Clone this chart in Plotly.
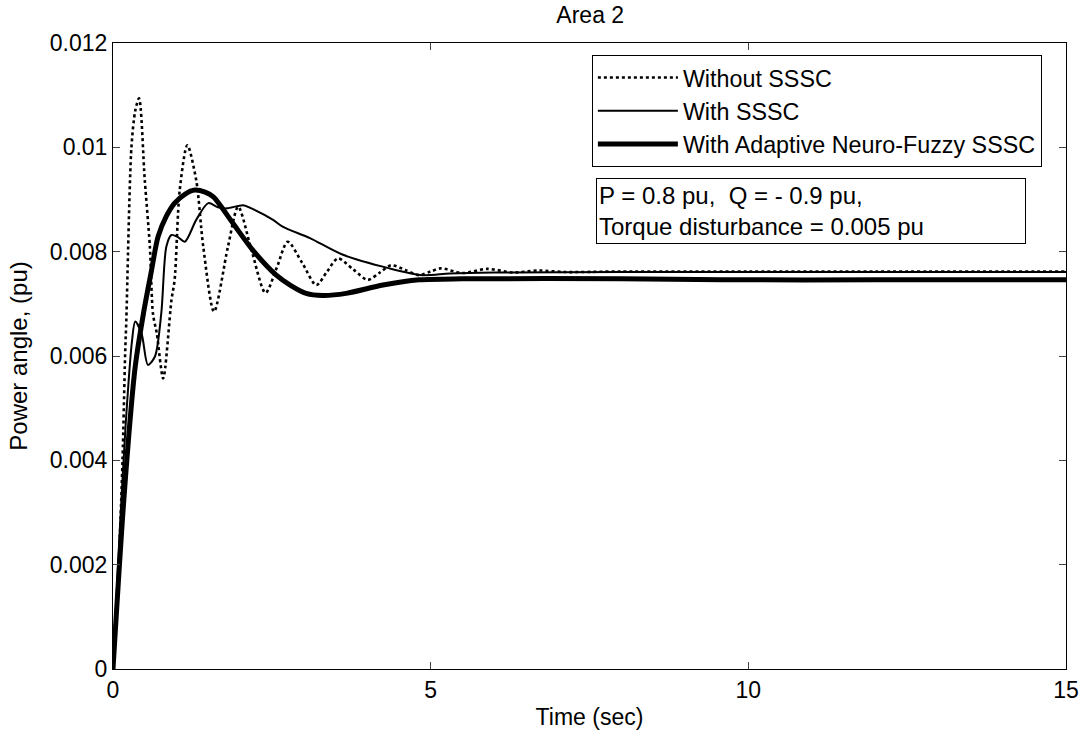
import plotly.graph_objects as go

# ---- data ----
t_without = [0, 0.02, 0.09, 0.15, 0.19, 0.21, 0.29, 0.35, 0.41, 0.50, 0.58, 0.63, 0.69, 0.79,
             0.92, 0.97, 1.05, 1.17, 1.31, 1.42, 1.59, 1.81, 1.97, 2.18, 2.40, 2.58, 2.75,
             2.98, 3.20, 3.37, 3.54, 3.78, 4.01, 4.20, 4.38, 4.60, 4.82, 5.00, 5.16, 5.50,
             5.89, 6.3, 6.7, 7.1, 8, 10, 12, 15]
y_without = [0, 0.0006, 0.0020, 0.0040, 0.0060, 0.0067, 0.0100, 0.0107, 0.01094, 0.00937,
             0.0081, 0.0068, 0.00643, 0.00557, 0.00707, 0.00746, 0.00918, 0.01004, 0.00937,
             0.0081, 0.00685, 0.0081, 0.00886, 0.00803, 0.00721, 0.0077, 0.00819, 0.00778,
             0.00736, 0.00762, 0.00787, 0.00766, 0.00746, 0.0076, 0.00774, 0.00765, 0.00755,
             0.00762, 0.00768, 0.00759, 0.00767, 0.0076, 0.00764, 0.00761, 0.00762, 0.00762,
             0.00762, 0.00762]

t_with = [0, 0.1, 0.2, 0.3, 0.35, 0.45, 0.55, 0.66, 0.76, 0.84, 0.92, 1.02, 1.13, 1.31, 1.50,
          1.65, 1.79, 2.05, 2.18, 2.52, 2.67, 3.10, 3.60, 4.35, 4.87, 5.3, 6, 8, 10, 15]
y_with = [0, 0.0025, 0.0047, 0.0063, 0.00666, 0.00643, 0.00583, 0.00599, 0.00682, 0.0081,
          0.00832, 0.00828, 0.00819, 0.00861, 0.00893, 0.00885, 0.00883, 0.00889, 0.00883,
          0.00861, 0.00848, 0.00826, 0.00795, 0.00768, 0.00755, 0.00758, 0.0076,
          0.00761, 0.00761, 0.00761]

t_anfis = [0, 0.05, 0.15, 0.25, 0.35, 0.48, 0.6, 0.71, 0.84, 0.97, 1.13, 1.29, 1.45, 1.58,
           1.89, 2.20, 2.57, 2.8, 3.04, 3.3, 3.67, 4.25, 4.82, 5.5, 8, 9.6, 12, 15]
y_anfis = [0, 0.0010, 0.0029, 0.0045, 0.0058, 0.00682, 0.0076, 0.00829, 0.00868, 0.00893,
           0.0091, 0.00918, 0.00914, 0.00905, 0.00854, 0.00803, 0.00755, 0.00735, 0.0072,
           0.00716, 0.0072, 0.00736, 0.00746, 0.00748, 0.00748, 0.00746, 0.00746, 0.00746]

series_names = ["Without SSSC", "With SSSC", "With Adaptive Neuro-Fuzzy SSSC"]
x_ticks = [0, 5, 10, 15]
y_ticks = [0, 0.002, 0.004, 0.006, 0.008, 0.01, 0.012]
y_tick_labels = ["0", "0.002", "0.004", "0.006", "0.008", "0.01", "0.012"]

FONT = "Liberation Sans, Arial, sans-serif"

fig = go.Figure()
fig.add_trace(go.Scatter(x=t_without, y=y_without, mode="lines", name=series_names[0],
                         line=dict(color="black", width=2.6, dash="dot", shape="spline", smoothing=0.8)))
fig.add_trace(go.Scatter(x=t_with, y=y_with, mode="lines", name=series_names[1],
                         line=dict(color="black", width=2, shape="spline", smoothing=0.8)))
fig.add_trace(go.Scatter(x=t_anfis, y=y_anfis, mode="lines", name=series_names[2],
                         line=dict(color="black", width=5, shape="spline", smoothing=0.8)))

fig.update_layout(
    width=1091, height=738,
    margin=dict(l=113, r=23, t=43, b=69),
    paper_bgcolor="white", plot_bgcolor="white",
    font=dict(family=FONT, size=23, color="black"),
    title=dict(text="Area 2", x=0.541, xanchor="center", y=0.99, yanchor="top",
               font=dict(size=23, family=FONT, color="black")),
    showlegend=True,
    legend=dict(x=0.5025, y=0.981, xanchor="left", yanchor="top",
                bordercolor="black", borderwidth=1, bgcolor="white",
                font=dict(size=23.3, family=FONT), itemwidth=80,
                tracegroupgap=0),
    xaxis=dict(range=[0, 15], tickvals=x_ticks, ticks="inside", ticklen=7,
               showline=True, linecolor="black", linewidth=1, mirror="ticks",
               showgrid=False, zeroline=False,
               title=dict(text="Time (sec)", standoff=7, font=dict(size=23)),
               tickfont=dict(size=23)),
    yaxis=dict(range=[0, 0.012], tickvals=y_ticks, ticktext=y_tick_labels,
               ticks="inside", ticklen=7,
               showline=True, linecolor="black", linewidth=1, mirror="ticks",
               showgrid=False, zeroline=False,
               title=dict(text="Power angle, (pu)", standoff=15, font=dict(size=24)),
               tickfont=dict(size=23)),
)

fig.add_annotation(
    xref="paper", yref="paper", x=0.507, y=0.784, xanchor="left", yanchor="top",
    text="P = 0.8 pu,  Q = - 0.9 pu,<br>Torque disturbance = 0.005 pu",
    showarrow=False, align="left", width=424, height=60,
    bordercolor="black", borderwidth=1, borderpad=2, bgcolor="white",
    font=dict(size=24, family=FONT, color="black"),
)

fig.write_html("out.html")
